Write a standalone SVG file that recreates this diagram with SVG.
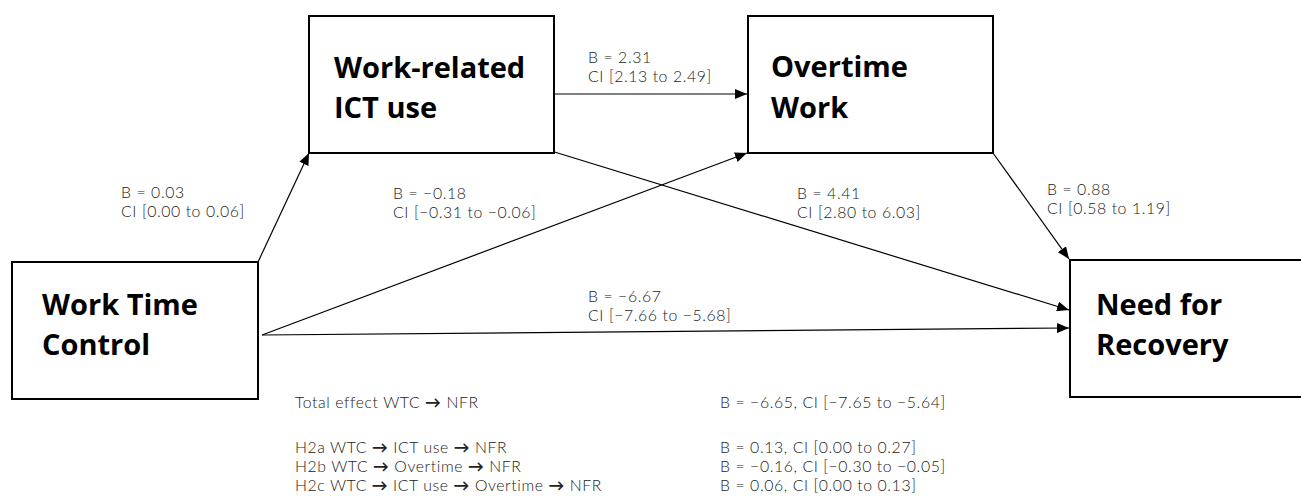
<svg xmlns="http://www.w3.org/2000/svg" width="1301" height="504" viewBox="0 0 1301 504">
<style>
.box{fill:#fff;stroke:#000;stroke-width:2}
.nt{font-family:"Open Sans","Liberation Sans",sans-serif;font-weight:700;font-size:29px;fill:#000}
.lb{font-family:Lato,"Liberation Sans",sans-serif;font-weight:300;font-size:15.8px;letter-spacing:0.6px;fill:#222}
.ar{font-weight:700}
.cn{stroke:#000;stroke-width:1.2;fill:none;marker-end:url(#ah)}
</style>
<defs>
<marker id="ah" viewBox="0 0 12 10" refX="12" refY="5" markerWidth="12" markerHeight="10" markerUnits="userSpaceOnUse" orient="auto">
<path d="M0,0 L12,5 L0,10 Z" fill="#000"/>
</marker>
</defs>
<rect width="1301" height="504" fill="#fff"/>
<g id="connectors">
<line class="cn" x1="258" y1="262" x2="309" y2="153"/>
<line class="cn" x1="554" y1="94" x2="747" y2="94"/>
<line class="cn" x1="548" y1="150" x2="1069" y2="310"/>
<line class="cn" x1="262" y1="335" x2="747" y2="153"/>
<line class="cn" x1="262" y1="335" x2="1069" y2="328"/>
<line class="cn" x1="993" y1="153" x2="1069" y2="259"/>
</g>
<g id="node-ict">
<rect class="box" x="309" y="16" width="245" height="137"/>
<text class="nt" x="334" y="78">Work-related</text>
<text class="nt" x="334" y="118">ICT use</text>
</g>
<g id="node-overtime">
<rect class="box" x="748" y="16" width="245" height="137"/>
<text class="nt" x="771" y="77">Overtime</text>
<text class="nt" x="771" y="118">Work</text>
</g>
<g id="node-wtc">
<rect class="box" x="12" y="262" width="246" height="137"/>
<text class="nt" x="42" y="315">Work Time</text>
<text class="nt" x="42" y="355">Control</text>
</g>
<g id="node-nfr">
<rect class="box" x="1070" y="260" width="240" height="137"/>
<text class="nt" x="1096" y="315">Need for</text>
<text class="nt" x="1096" y="355">Recovery</text>
</g>
<g id="labels">
<text class="lb" x="121" y="198">B = 0.03</text>
<text class="lb" x="121" y="217">CI [0.00 to 0.06]</text>
<text class="lb" x="588" y="63">B = 2.31</text>
<text class="lb" x="588" y="82">CI [2.13 to 2.49]</text>
<text class="lb" x="393" y="199">B = −0.18</text>
<text class="lb" x="393" y="218">CI [−0.31 to −0.06]</text>
<text class="lb" x="797" y="199">B = 4.41</text>
<text class="lb" x="797" y="218">CI [2.80 to 6.03]</text>
<text class="lb" x="1047" y="195">B = 0.88</text>
<text class="lb" x="1047" y="214">CI [0.58 to 1.19]</text>
<text class="lb" x="588" y="302">B = −6.67</text>
<text class="lb" x="588" y="321">CI [−7.66 to −5.68]</text>
</g>
<g id="summary">
<text class="lb" x="295" y="408">Total effect WTC <tspan class="ar">→</tspan> NFR</text>
<text class="lb" x="295" y="453">H2a WTC <tspan class="ar">→</tspan> ICT use <tspan class="ar">→</tspan> NFR</text>
<text class="lb" x="295" y="472">H2b WTC <tspan class="ar">→</tspan> Overtime <tspan class="ar">→</tspan> NFR</text>
<text class="lb" x="295" y="491">H2c WTC <tspan class="ar">→</tspan> ICT use <tspan class="ar">→</tspan> Overtime <tspan class="ar">→</tspan> NFR</text>
<text class="lb" x="720" y="408">B = −6.65, CI [−7.65 to −5.64]</text>
<text class="lb" x="720" y="453">B = 0.13, CI [0.00 to 0.27]</text>
<text class="lb" x="720" y="472">B = −0.16, CI [−0.30 to −0.05]</text>
<text class="lb" x="720" y="491">B = 0.06, CI [0.00 to 0.13]</text>
</g>
</svg>
